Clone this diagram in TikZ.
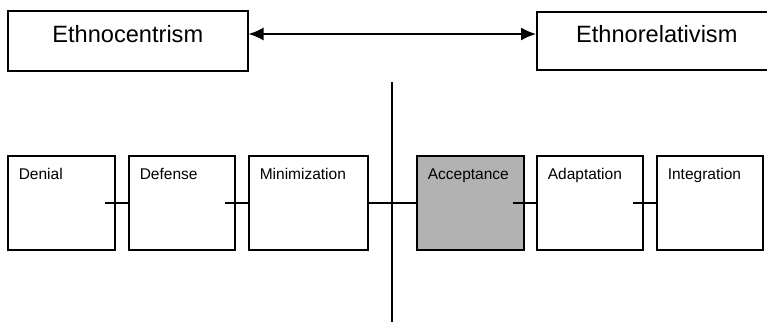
\documentclass[tikz,border=0pt]{standalone}
\usepackage{fontspec}
\setmainfont{Liberation Sans}
\usetikzlibrary{arrows.meta}
\definecolor{accgray}{RGB}{178,178,178}
\tikzset{
  polebox/.style={draw=black, line width=1.6pt, fill=white, inner sep=0pt,
    minimum width=240pt, text height=32pt, text depth=28pt, anchor=north west,
    font=\fontsize{23.6}{28}\selectfont},
  stagebox/.style={draw=black, line width=1.6pt, fill=white, inner xsep=11pt, inner ysep=0pt,
    text width=85pt, align=left, text height=24pt, text depth=70pt, anchor=north west,
    font=\fontsize{15.5}{18}\selectfont},
  link/.style={draw=black, line width=1.5pt},
  bothway/.style={draw=black, line width=1.5pt, {Latex[length=15pt,width=13pt]}-{Latex[length=15pt,width=13pt]}}
}
\begin{document}
\begin{tikzpicture}[x=1pt,y=-1pt]
\useasboundingbox (0,0) rectangle (767,324);
\node[polebox] (ethnocentrism) at (7,10) {Ethnocentrism};
\node[polebox, minimum width=240pt, text height=31pt, text depth=27pt] (ethnorelativism) at (536,11) {Ethnorelativism};
\draw[bothway] ([yshift=-24pt]ethnocentrism.north east) -- ([yshift=-23pt]ethnorelativism.north west);

\coordinate (vtop) at (392,82);
\coordinate (vbot) at (392,322);

\node[stagebox] (denial) at (7,155) {Denial};
\node[stagebox, text width=84pt] (defense) at (128,155) {Defense};
\node[stagebox, text width=97pt] (minimization) at (248,155) {Minimization};
\node[stagebox, fill=accgray] (acceptance) at (416,155) {Acceptance};
\node[stagebox, text width=84pt] (adaptation) at (536,155) {Adaptation};
\node[stagebox, text width=84pt] (integration) at (656,155) {Integration};

\draw[link] ([xshift=-11pt]denial.east) -- (defense.west);
\draw[link] ([xshift=-11pt]defense.east) -- (minimization.west);
\draw[link] (minimization.east) -- (acceptance.west);
\draw[link] ([xshift=-12pt]acceptance.east) -- (adaptation.west);
\draw[link] ([xshift=-11pt]adaptation.east) -- (integration.west);

\draw[link] (vtop) -- (vbot);
\end{tikzpicture}
\end{document}
